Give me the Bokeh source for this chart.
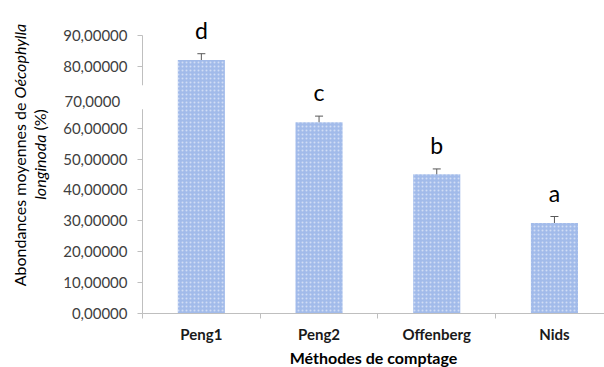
import math
from bokeh.plotting import figure
from bokeh.models import Range1d, FixedTicker, ColumnDataSource, Whisker, TeeHead, Label, LabelSet
from bokeh.core.properties import value
from bokeh.embed import file_html
from bokeh.resources import INLINE

# ---- data ----
categories = ["Peng1", "Peng2", "Offenberg", "Nids"]
means = [82.1, 61.9, 45.1, 29.3]
errors = [2.0, 2.0, 1.7, 2.1]
letters = ["d", "c", "b", "a"]
y_ticks = [0, 10, 20, 30, 40, 50, 60, 80, 90]
y_tick_labels = ["0,00000", "10,00000", "20,00000", "30,00000", "40,00000",
                 "50,00000", "60,00000", "80,00000", "90,00000"]
y_break_value = 70
y_break_label = "70,0000"
x_title = "Méthodes de comptage"
y_title_1 = ("Abondances moyennes de", "Oécophylla")
y_title_2 = ("longinoda", "(%)")

# ---- layout (pixels) ----
W, H = 604, 367
AX_LEFT_PX = 142      # y axis position
AX_BOTTOM_PX = 313    # x axis position
CAT_PX = 117.7        # width of one category
UNIT_PX = 3.089       # pixels per y unit
Y_MAX = 90

FONT = "Lato"
x_start = -AX_LEFT_PX / CAT_PX
x_end = (W - AX_LEFT_PX) / CAT_PX
y_start = -(H - AX_BOTTOM_PX) / UNIT_PX
y_end = AX_BOTTOM_PX / UNIT_PX

def xd(px):
    return (px - AX_LEFT_PX) / CAT_PX

def yd(py):
    return (AX_BOTTOM_PX - py) / UNIT_PX

x = [i + 0.5 for i in range(len(categories))]
src = ColumnDataSource(dict(
    x=x, top=means,
    upper=[m + e for m, e in zip(means, errors)],
    lower=[m - e for m, e in zip(means, errors)],
    letter=letters,
))

p = figure(width=W, height=H,
           x_range=Range1d(x_start, x_end), y_range=Range1d(y_start, y_end),
           output_backend="svg", toolbar_location=None,
           min_border=0)
p.outline_line_color = None
p.grid.visible = False
p.background_fill_color = "white"
p.border_fill_color = "white"

p.vbar(x="x", top="top", width=0.4, source=src,
       fill_color="#a2bbea", line_color=None,
       hatch_pattern="dot", hatch_color="white", hatch_alpha=0.5,
       hatch_scale=4, hatch_weight=1)

p.add_layout(Whisker(source=src, base="x", upper="upper", lower="lower",
                     line_color="#595959", line_width=1,
                     upper_head=TeeHead(size=8, line_color="#595959", line_width=1),
                     lower_head=TeeHead(size=8, line_color="#595959", line_width=1)))

p.add_layout(LabelSet(source=src, x="x", y="upper", text="letter", y_offset=15,
                      text_align="center", text_baseline="alphabetic",
                      text_font=value(FONT), text_font_size="23px",
                      text_color="#000000"))

# y axis
ya = p.yaxis[0]
ya.fixed_location = 0
ya.bounds = (0, Y_MAX)
ya.ticker = FixedTicker(ticks=y_ticks)
ya.major_label_overrides = dict(zip(y_ticks, y_tick_labels))
ya.major_label_text_font = FONT
ya.major_label_text_font_size = "15px"
ya.major_label_text_color = "#404040"
ya.axis_line_color = "#bfbfbf"
ya.major_tick_line_color = "#bfbfbf"
ya.major_tick_out = 5
ya.major_tick_in = 0
ya.minor_tick_out = 0
ya.minor_tick_in = 0
ya.major_label_standoff = 10

# x axis
xa = p.xaxis[0]
xa.fixed_location = 0
xa.bounds = (0, len(categories))
xa.ticker = FixedTicker(ticks=x, minor_ticks=list(range(len(categories) + 1)))
xa.major_label_overrides = dict(zip(x, categories))
xa.major_label_text_font = FONT
xa.major_label_text_font_size = "15px"
xa.major_label_text_font_style = "bold"
xa.major_label_text_color = "#1a1a1a"
xa.axis_line_color = "#bfbfbf"
xa.major_tick_out = 0
xa.major_tick_in = 0
xa.minor_tick_out = 5
xa.minor_tick_in = 0
xa.minor_tick_line_color = "#bfbfbf"
xa.major_label_standoff = 6
xa.axis_label = x_title
xa.axis_label_text_font = FONT
xa.axis_label_text_font_size = "16px"
xa.axis_label_text_font_style = "bold"
xa.axis_label_text_color = "#000000"
xa.axis_label_standoff = 2

# broken 70 label (white text box covering the axis)
p.add_layout(Label(x=xd(58), y=y_break_value, text=y_break_label,
                   text_align="left", text_baseline="middle",
                   text_font=FONT, text_font_size="15px", text_color="#404040",
                   background_fill_color="white", padding=(6, 28, 11, 2)))

# y title (mixed italic), rotated
def ylab(xx, yy, txt, align, style):
    p.add_layout(Label(x=xx, y=yy, text=txt, angle=math.pi / 2,
                       text_align=align, text_baseline="middle",
                       text_font=FONT, text_font_size="16px",
                       text_font_style=style, text_color="#000000"))

ylab(xd(19), yd(102), y_title_1[0], "right", "normal")
ylab(xd(19), yd(98), y_title_1[1], "left", "italic")
ylab(xd(39), yd(134), y_title_2[0], "right", "italic")
ylab(xd(39), yd(130), y_title_2[1], "left", "normal")

open("out.html", "w").write(file_html(p, INLINE))
